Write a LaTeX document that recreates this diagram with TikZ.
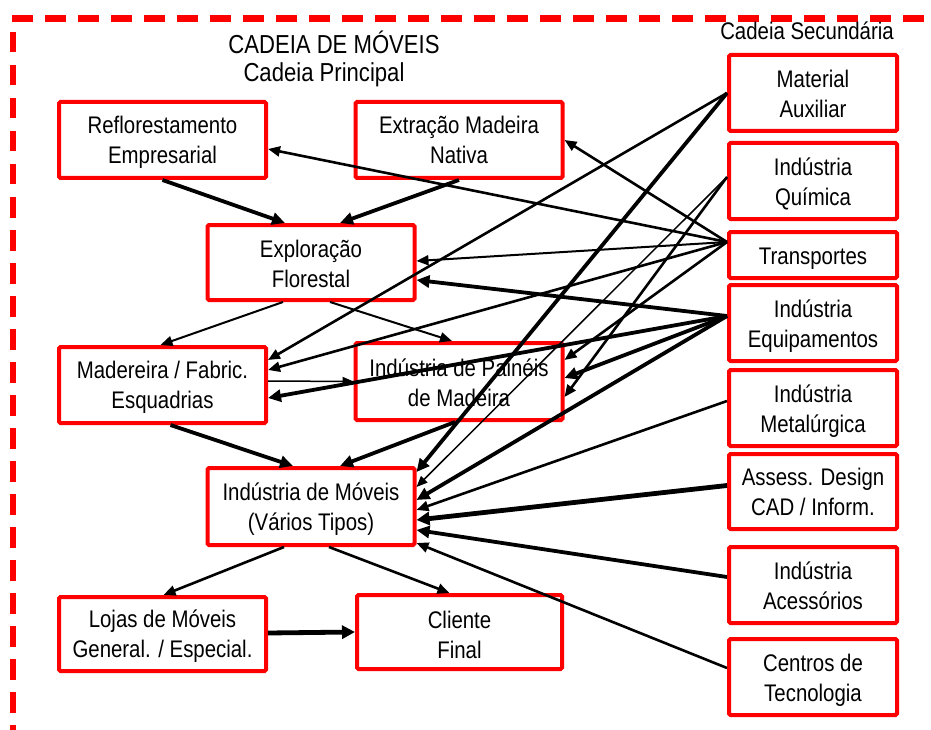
\documentclass[tikz,border=0pt]{standalone}
\usepackage{fontspec}
\setmainfont{Liberation Sans}[FakeStretch=0.85]
\usetikzlibrary{arrows.meta}

% centred box label, lowered a little inside its frame
\newcommand\bxtext[2][-2.6pt]{\raisebox{#1}[\height][\depth]{\begin{tabular}{@{}c@{}}#2\end{tabular}}}

\begin{document}
\begin{tikzpicture}[x=1pt,y=-1pt,
  box/.style={draw=red, line width=4pt, fill=white, rounded corners=1.5pt,
    minimum width=207pt, minimum height=76pt, inner sep=0pt,
    font=\fontsize{24}{30}\selectfont},
  sbox/.style={box, minimum width=168pt},
  title/.style={anchor=base, inner sep=0pt},
  wirefine/.style={line width=1.5pt, -{Triangle[length=11pt,width=9pt]}},
  wirelight/.style={line width=2pt, -{Triangle[length=12pt,width=10pt]}},
  wiremid/.style={line width=2.6pt, -{Triangle[length=12pt,width=10pt]}},
  wireheavy/.style={line width=3.8pt, -{Triangle[length=13pt,width=12pt]}},
  wirebold/.style={line width=4.8pt, -{Triangle[length=13pt,width=13pt]}},
  frame/.style={draw=red, dash pattern=on 20.5pt off 12.5pt}
]
\useasboundingbox (0,0) rectangle (931,730);

% dashed frame (top and left sides)
\draw[frame, line width=7pt] (12,19) -- (940,19);
\draw[frame, line width=6pt] (13,32) -- (13,740);

% headings
\node[title, font=\fontsize{26}{30}\selectfont] (hmain) at (334,53.5) {CADEIA DE MÓVEIS};
\node[title, font=\fontsize{26}{30}\selectfont] (hprin) at (324,81.5) {Cadeia Principal};
\node[title, font=\fontsize{24}{30}\selectfont] (hsec) at (807,40) {Cadeia Secundária};

% main chain
\node[box] (refl) at (162.5,140) {\bxtext{Reflorestamento\\Empresarial}};
\node[box] (extr) at (459,140) {\bxtext{Extração Madeira\\Nativa}};
\node[box, minimum height=75pt] (expl) at (311,262.5) {\bxtext[-3.5pt]{Exploração\\Florestal}};
\node[box] (mad) at (162.5,385) {\bxtext{Madereira / Fabric.\\Esquadrias}};
\node[box, minimum height=77pt] (pain) at (459,381.5) {\bxtext[-3.5pt]{Indústria de Painéis\\de Madeira}};
\node[box, minimum height=77pt] (mov) at (311,506.5) {\bxtext{Indústria de Móveis\\(Vários Tipos)}};
\node[box, minimum height=74pt] (loj) at (162.5,634) {\bxtext{Lojas de Móveis\\General. / Especial.}};
\node[box, minimum width=205pt, minimum height=74pt] (cli) at (459.5,632) {\bxtext[-5.5pt]{Cliente\\Final}};

% secondary chain
\node[sbox] (ma) at (813,93) {\bxtext[-3.5pt]{Material\\Auxiliar}};
\node[sbox] (qui) at (813,181) {\bxtext[-3pt]{Indústria\\Química}};
\node[sbox, minimum height=46pt] (tra) at (813,255) {\bxtext[-3pt]{Transportes}};
\node[sbox] (equ) at (813,323) {\bxtext[-3pt]{Indústria\\Equipamentos}};
\node[sbox] (met) at (813,408) {\bxtext[-3pt]{Indústria\\Metalúrgica}};
\node[sbox, minimum height=75pt] (ass) at (813,491.5) {\bxtext[-3pt]{Assess. Design\\CAD / Inform.}};
\node[sbox] (ace) at (813,585) {\bxtext[-3pt]{Indústria\\Acessórios}};
\node[sbox] (cen) at (813,677) {\bxtext[-3pt]{Centros de\\Tecnologia}};

% flows along the main chain
\draw[wireheavy] (refl.south) -- ([xshift=-26pt]expl.north);
\draw[wireheavy] (extr.south) -- ([xshift=29pt]expl.north);
\draw[wirelight] ([xshift=-28pt]expl.south) -- ([xshift=-2pt]mad.north);
\draw[wirelight] ([xshift=19pt]expl.south) -- ([xshift=-7pt]pain.north);
\draw[wirefine] ([yshift=4pt]mad.east) -- (pain.west);
\draw[wireheavy] ([xshift=8pt]mad.south) -- ([xshift=-18pt]mov.north);
\draw[wireheavy] ([xshift=-4pt]pain.south) -- ([xshift=29pt]mov.north);
\draw[wiremid] ([xshift=-27pt]mov.south) -- ([xshift=1pt]loj.north);
\draw[wiremid] ([xshift=18pt]mov.south) -- ([xshift=-10pt]cli.north);
\draw[wirebold] ([yshift=1pt]loj.east) -- (cli.west);

% supplies from the secondary chain
\draw[wiremid] (ma.west) -- ([yshift=25pt]mad.east);
\draw[wireheavy] (ma.west) -- ([yshift=34.5pt]mov.east);
\draw[wirefine] ([yshift=4pt]qui.west) -- ([yshift=19.5pt]mov.east);
\draw[wiremid] ([yshift=4pt]qui.west) -- ([yshift=-15.5pt]pain.east);
\draw[wiremid] ([yshift=13pt]tra.west) -- ([yshift=-9pt]refl.east);
\draw[wiremid] ([yshift=13pt]tra.west) -- (extr.east);
\draw[wirelight] ([yshift=13pt]tra.west) -- ([yshift=1.5pt]expl.east);
\draw[wiremid] ([yshift=13pt]tra.west) -- ([yshift=15pt]mad.east);
\draw[wiremid] ([yshift=13pt]tra.west) -- ([yshift=21.5pt]pain.east);
\draw[wireheavy] ([yshift=7pt]equ.west) -- ([yshift=-17.5pt]expl.east);
\draw[wireheavy] ([yshift=7pt]equ.west) -- ([yshift=-13pt]mad.east);
\draw[wireheavy] ([yshift=7pt]equ.west) -- ([yshift=3.5pt]pain.east);
\draw[wireheavy] ([yshift=7pt]equ.west) -- ([yshift=6.5pt]mov.east);
\draw[wiremid] ([yshift=7pt]met.west) -- ([yshift=-3.5pt]mov.east);
\draw[wirebold] ([yshift=6pt]ass.west) -- ([yshift=-13.5pt]mov.east);
\draw[wireheavy] ([yshift=8pt]ace.west) -- ([yshift=-23.5pt]mov.east);
\draw[wiremid] ([yshift=9pt]cen.west) -- ([yshift=-36.5pt]mov.east);
\end{tikzpicture}
\end{document}
